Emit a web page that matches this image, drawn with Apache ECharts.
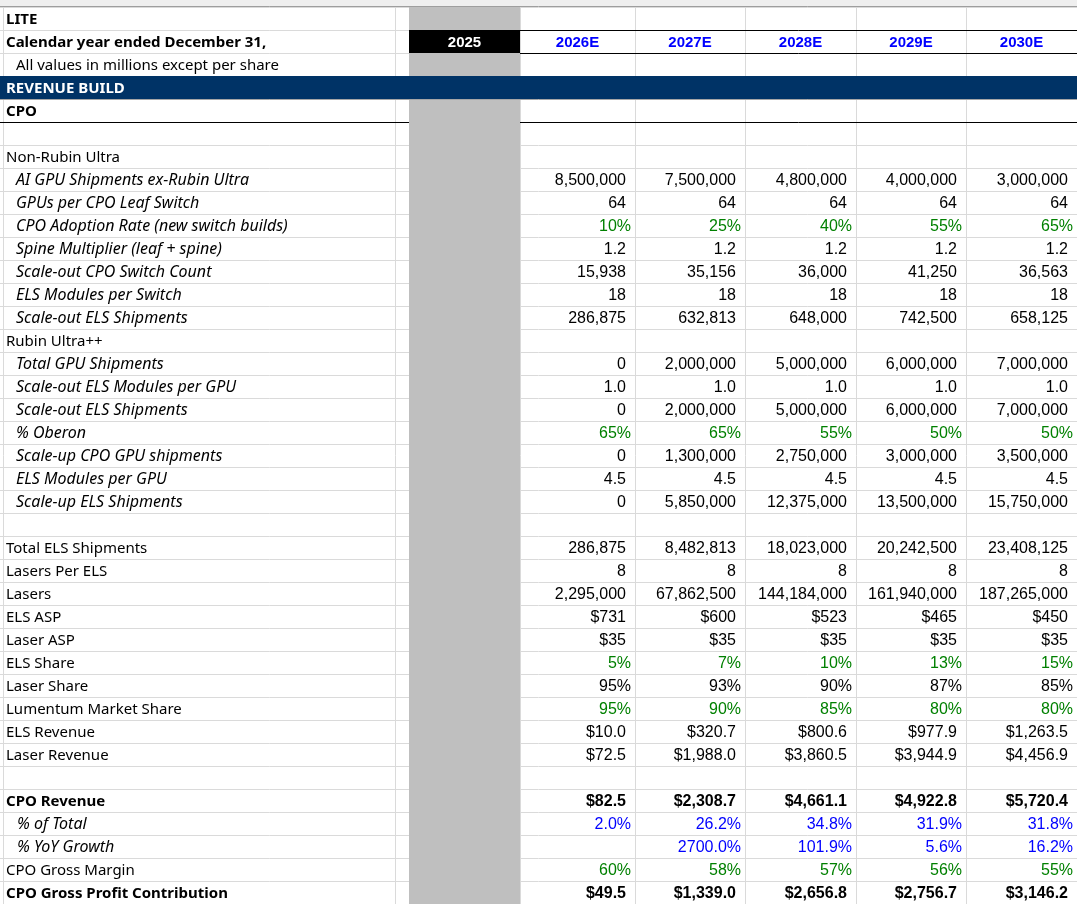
<!DOCTYPE html>
<html>
<head>
<meta charset="utf-8">
<script src="https://cdn.jsdelivr.net/npm/echarts@6/dist/echarts.min.js"></script>
<style>
html, body { margin: 0; padding: 0; background: #fff; }
#sheet { width: 1077px; height: 904px; }
</style>
</head>
<body>
<div id="sheet"></div>
<script>
// column headers (2025 is actual, grey column stays empty)
var years = ['2025', '2026E', '2027E', '2028E', '2029E', '2030E'];

// row labels, top to bottom
var rowLabels = [
	'LITE',
	'Calendar year ended December 31,',
	'All values in millions except per share',
	'REVENUE BUILD',
	'CPO',
	'',
	'Non-Rubin Ultra',
	'AI GPU Shipments ex-Rubin Ultra',
	'GPUs per CPO Leaf Switch',
	'CPO Adoption Rate (new switch builds)',
	'Spine Multiplier (leaf + spine)',
	'Scale-out CPO Switch Count',
	'ELS Modules per Switch',
	'Scale-out ELS Shipments',
	'Rubin Ultra++',
	'Total GPU Shipments',
	'Scale-out ELS Modules per GPU',
	'Scale-out ELS Shipments',
	'% Oberon',
	'Scale-up CPO GPU shipments',
	'ELS Modules per GPU',
	'Scale-up ELS Shipments',
	'',
	'Total ELS Shipments',
	'Lasers Per ELS',
	'Lasers',
	'ELS ASP',
	'Laser ASP',
	'ELS Share',
	'Laser Share',
	'Lumentum Market Share',
	'ELS Revenue',
	'Laser Revenue',
	'',
	'CPO Revenue',
	'% of Total',
	'% YoY Growth',
	'CPO Gross Margin',
	'CPO Gross Profit Contribution'
];

// values for 2026E..2030E
var aiGpuShipments = [8500000, 7500000, 4800000, 4000000, 3000000];
var gpusPerSwitch = [64, 64, 64, 64, 64];
var cpoAdoption = [10, 25, 40, 55, 65];
var spineMultiplier = [1.2, 1.2, 1.2, 1.2, 1.2];
var switchCount = [15938, 35156, 36000, 41250, 36563];
var elsPerSwitch = [18, 18, 18, 18, 18];
var scaleOutElsNonRubin = [286875, 632813, 648000, 742500, 658125];
var totalGpuShipments = [0, 2000000, 5000000, 6000000, 7000000];
var elsPerGpuOut = [1.0, 1.0, 1.0, 1.0, 1.0];
var scaleOutElsRubin = [0, 2000000, 5000000, 6000000, 7000000];
var oberonPct = [65, 65, 55, 50, 50];
var scaleUpGpus = [0, 1300000, 2750000, 3000000, 3500000];
var elsPerGpuUp = [4.5, 4.5, 4.5, 4.5, 4.5];
var scaleUpEls = [0, 5850000, 12375000, 13500000, 15750000];
var totalEls = [286875, 8482813, 18023000, 20242500, 23408125];
var lasersPerEls = [8, 8, 8, 8, 8];
var lasers = [2295000, 67862500, 144184000, 161940000, 187265000];
var elsAsp = [731, 600, 523, 465, 450];
var laserAsp = [35, 35, 35, 35, 35];
var elsShare = [5, 7, 10, 13, 15];
var laserShare = [95, 93, 90, 87, 85];
var marketShare = [95, 90, 85, 80, 80];
var elsRevenue = [10.0, 320.7, 800.6, 977.9, 1263.5];
var laserRevenue = [72.5, 1988.0, 3860.5, 3944.9, 4456.9];
var cpoRevenue = [82.5, 2308.7, 4661.1, 4922.8, 5720.4];
var pctOfTotal = [2.0, 26.2, 34.8, 31.9, 31.8];
var yoyGrowth = [null, 2700.0, 101.9, 5.6, 16.2];
var grossMargin = [60, 58, 57, 56, 55];
var grossProfit = [49.5, 1339.0, 2656.8, 2756.7, 3146.2];

// row index -> [values, format, colour, bold]
var rowValues = {
	7: [aiGpuShipments, 'int'], 8: [gpusPerSwitch, 'int'], 9: [cpoAdoption, 'pct0', 'green'],
	10: [spineMultiplier, 'dec1'], 11: [switchCount, 'int'], 12: [elsPerSwitch, 'int'],
	13: [scaleOutElsNonRubin, 'int'], 15: [totalGpuShipments, 'int'], 16: [elsPerGpuOut, 'dec1'],
	17: [scaleOutElsRubin, 'int'], 18: [oberonPct, 'pct0', 'green'], 19: [scaleUpGpus, 'int'],
	20: [elsPerGpuUp, 'dec1'], 21: [scaleUpEls, 'int'], 23: [totalEls, 'int'],
	24: [lasersPerEls, 'int'], 25: [lasers, 'int'], 26: [elsAsp, 'usd0'], 27: [laserAsp, 'usd0'],
	28: [elsShare, 'pct0', 'green'], 29: [laserShare, 'pct0'], 30: [marketShare, 'pct0', 'green'],
	31: [elsRevenue, 'usd1'], 32: [laserRevenue, 'usd1'], 34: [cpoRevenue, 'usd1', null, true],
	35: [pctOfTotal, 'pct1', 'blue'], 36: [yoyGrowth, 'pct1', 'blue'], 37: [grossMargin, 'pct0', 'green'],
	38: [grossProfit, 'usd1', null, true]
};

var boldRows = [0, 1, 3, 4, 34, 38];
var italicRows = [7, 8, 9, 10, 11, 12, 13, 15, 16, 17, 18, 19, 20, 21, 35, 36];

// sheet layout (pixel columns of the spreadsheet)
var colEdges = [409, 520, 635, 745, 856, 966, 1077];
var gridEdges = [3, 395, 520, 635, 745, 856, 966];
var nRows = rowLabels.length;

var labelFont = '"Noto Sans", Lato, sans-serif';
var numFont = '"Liberation Sans", Arial, sans-serif';
var colours = { green: '#008000', blue: '#0000ff', black: '#000000' };

function fmt(v, f) {
	if (v === null || v === undefined) return '';
	if (f === 'int') return Math.round(v).toLocaleString('en-US');
	if (f === 'dec1') return v.toFixed(1);
	if (f === 'pct0') return Math.round(v) + '%';
	if (f === 'pct1') return v.toFixed(1) + '%';
	if (f === 'usd0') return '$' + Math.round(v).toLocaleString('en-US');
	if (f === 'usd1') return '$' + v.toLocaleString('en-US', { minimumFractionDigits: 1, maximumFractionDigits: 1 });
	return String(v);
}

// build text cells: col -1 = label column, 0..5 = year columns
var cells = [];
rowLabels.forEach(function (lab, r) {
	if (lab) {
		var bold = boldRows.indexOf(r) >= 0;
		var ital = italicRows.indexOf(r) >= 0;
		var indent = (ital || r === 2) ? 17 : 7;
		if (r === 35 || r === 36) indent = 18;
		cells.push({ value: [-1, r], text: lab, indent: indent,
			font: (ital ? 'italic ' : '') + (bold ? 'bold ' : '') + (ital ? '16px ' : '15px ') + labelFont,
			color: r === 3 ? '#ffffff' : '#000000' });
	}
	var rv = rowValues[r];
	if (rv) {
		rv[0].forEach(function (v, i) {
			var t = fmt(v, rv[1]);
			if (!t) return;
			cells.push({ value: [i + 1, r], text: t, pct: rv[1].indexOf('pct') === 0,
				font: (rv[3] ? 'bold ' : '') + '16px ' + numFont,
				color: colours[rv[2] || 'black'] });
		});
	}
});
years.forEach(function (y, i) {
	cells.push({ value: [i, 1], text: y, header: true,
		font: 'bold 15px ' + numFont, color: i === 0 ? '#ffffff' : '#0000ff' });
});

function renderText(params, api) {
	var c = cells[params.dataIndex];
	var col = api.value(0), row = api.value(1);
	var x, align;
	if (col < 0) { x = 3 + c.indent - 4; align = 'left'; }
	else if (c.header) { x = (colEdges[col] + colEdges[col + 1]) / 2; align = 'center'; }
	else { x = colEdges[col + 1] - (c.pct ? 4 : 9); align = 'right'; }
	var p = api.coord([x, row + 0.5]);
	return {
		type: 'text', x: p[0], y: p[1] + 1,
		style: { text: c.text, font: c.font, fill: c.color,
			textAlign: align, align: align, textVerticalAlign: 'middle', verticalAlign: 'middle' }
	};
}

// fills and borders: [x0, x1, row0, row1, kind]
var fills = [
	[colEdges[0], colEdges[1], 0, nRows, '#bfbfbf'],
	[0, 1077, 3, 4, '#003366'],
	[colEdges[0], colEdges[1], 1, 2, '#000000']
];
var borders = [
	[520, 1077, 1, '#000000'], [520, 1077, 2, '#000000'],
	[0, 409, 5, '#000000'], [520, 1077, 5, '#000000'],
	[0, 1077, 4, '#a6a6a6']
];

function renderFill(params, api) {
	var f = fills[params.dataIndex];
	var a = api.coord([f[0], f[2]]), b = api.coord([f[1], f[3]]);
	return { type: 'rect', shape: { x: a[0], y: a[1], width: b[0] - a[0], height: b[1] - a[1] },
		style: { fill: f[4] } };
}
function renderBorder(params, api) {
	var l = borders[params.dataIndex];
	var a = api.coord([l[0], l[2]]), b = api.coord([l[1], l[2]]);
	var y = Math.round(a[1]) + 0.5;
	return { type: 'line', shape: { x1: a[0], y1: y, x2: b[0], y2: y },
		style: { stroke: l[3], lineWidth: 1 } };
}
function renderVLine(params, api) {
	var a = api.coord([gridEdges[params.dataIndex], 0]), b = api.coord([gridEdges[params.dataIndex], nRows]);
	var x = Math.round(a[0]) + 0.5;
	return { type: 'line', shape: { x1: x, y1: a[1], x2: x, y2: b[1] },
		style: { stroke: '#dadada', lineWidth: 1 } };
}

var chart = echarts.init(document.getElementById('sheet'), null, { renderer: 'canvas' });
var option = {
	animation: false,
	grid: { left: 0, right: 0, top: 7, bottom: 0 },
	xAxis: { type: 'value', min: 0, max: 1077, show: false },
	yAxis: {
		type: 'value', inverse: true, min: 0, max: nRows, interval: 1,
		axisLine: { show: false }, axisTick: { show: false }, axisLabel: { show: false },
		splitLine: { show: true, lineStyle: { color: '#dadada', width: 1 } }
	},
	graphic: [
		{ type: 'rect', shape: { x: 0, y: 0, width: 1077, height: 7 }, style: { fill: '#efefef' } },
		{ type: 'line', shape: { x1: 0, y1: 6.5, x2: 1077, y2: 6.5 }, style: { stroke: '#9e9e9e', lineWidth: 1 } }
	],
	series: [
		{ type: 'custom', name: 'vlines', renderItem: renderVLine, data: gridEdges.map(function (e, i) { return [i]; }), z: 1, silent: true },
		{ type: 'custom', name: 'fills', renderItem: renderFill, data: fills.map(function (f, i) { return [i]; }), z: 2, silent: true },
		{ type: 'custom', name: 'borders', renderItem: renderBorder, data: borders.map(function (b, i) { return [i]; }), z: 3, silent: true },
		{ type: 'custom', name: 'cells', renderItem: renderText, data: cells, z: 4, silent: true, clip: false }
	]
};
chart.setOption(option);
</script>
</body>
</html>
